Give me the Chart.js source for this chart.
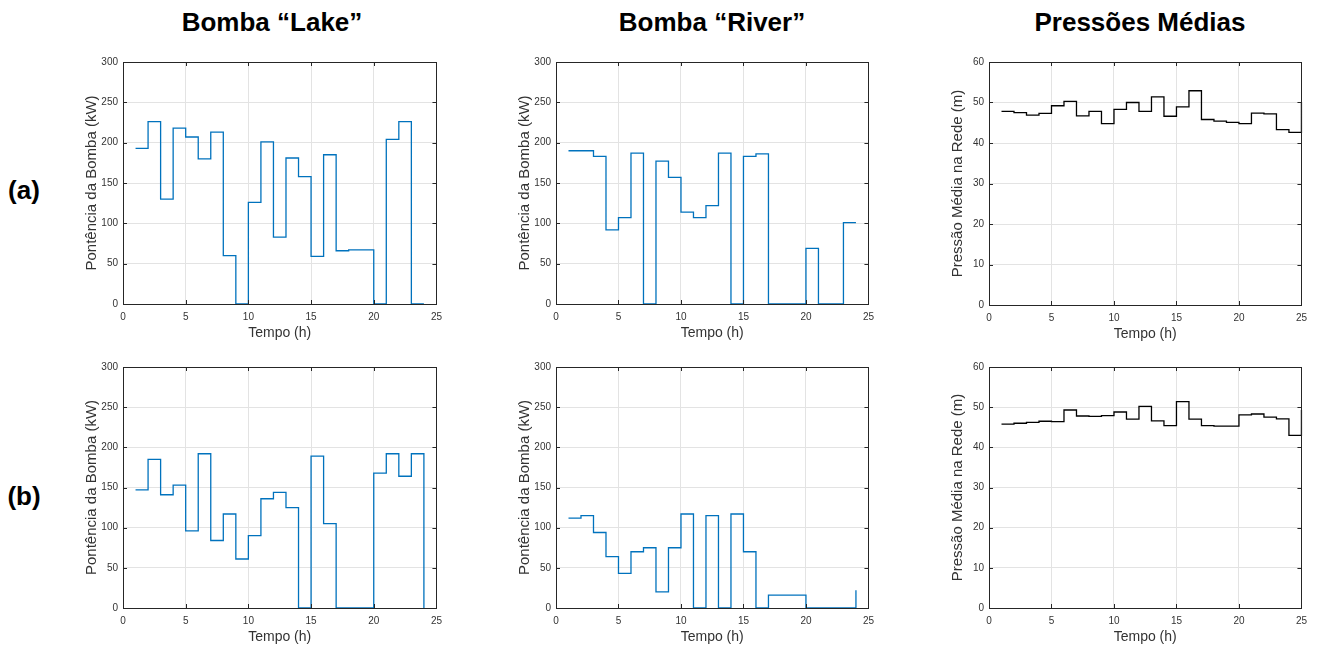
<!DOCTYPE html>
<html>
<head>
<meta charset="utf-8">
<script src="https://cdn.jsdelivr.net/npm/chart.js@4"></script>
<style>
body { margin: 0; background: #fff; width: 1323px; height: 648px; position: relative; overflow: hidden; font-family: "Liberation Sans", Arial, sans-serif; }
.title { position: absolute; font-weight: bold; font-size: 26px; color: #000; white-space: nowrap; transform: translate(-50%, -50%); }
canvas { position: absolute; }
</style>
</head>
<body>
<script>
// hours (x of each step start)
const hours = [1,2,3,4,5,6,7,8,9,10,11,12,13,14,15,16,17,18,19,20,21,22,23,24];
const hoursP = [1,2,3,4,5,6,7,8,9,10,11,12,13,14,15,16,17,18,19,20,21,22,23,24,25];

// row (a)
const lakeA = [193,226,130,218,207,180,213,60,0,126,201,83,181,158,59,185,66,67,67,0,204,226,0,0];
const riverA = [190,190,183,92,107,187,0,177,157,114,107,122,187,0,183,186,0,0,0,69,0,0,101,101];
const pressA = [47.8,47.5,46.9,47.3,49.2,50.3,46.7,47.8,44.8,48.3,50.0,47.8,51.4,46.6,48.9,52.9,45.8,45.4,45.1,44.8,47.4,47.2,43.3,42.6,50.1];

// row (b)
const lakeB = [147,185,141,153,96,192,84,117,61,90,136,144,125,0,189,105,0,0,0,168,192,164,192,0];
const riverB = [112,115,94,64,43,70,75,20,75,117,0,115,0,117,70,0,16,16,16,0,0,0,0,22];
const pressB = [45.8,46.0,46.2,46.5,46.4,49.3,47.8,47.7,47.9,48.8,47.0,50.2,46.6,45.4,51.4,47.0,45.4,45.3,45.3,48.1,48.3,47.5,47.1,43.0,49.3];

const colTitles = ['Bomba “Lake”', 'Bomba “River”', 'Pressões Médias'];
const rowLabels = ['(a)', '(b)'];
const yTitlePump = 'Pontência da Bomba (kW)';
const yTitlePress = 'Pressão Média na Rede (m)';
const xTitle = 'Tempo (h)';

const FONT = '"Liberation Sans", Arial, sans-serif';
const AX = '#262626';

function addText(txt, x, y) {
  let d = document.createElement('div');
  d.className = 'title';
  d.textContent = txt;
  d.style.left = x + 'px';
  d.style.top = y + 'px';
  document.body.appendChild(d);
}

addText(colTitles[0], 272, 22);
addText(colTitles[1], 712, 22);
addText(colTitles[2], 1140, 22);
addText(rowLabels[0], 24, 190);
addText(rowLabels[1], 24, 496);

// box with inward ticks, like matlab
const boxPlugin = {
  id: 'box',
  afterDraw(chart) {
    const ctx = chart.ctx;
    const a = chart.chartArea;
    ctx.save();
    ctx.strokeStyle = AX;
    ctx.lineWidth = 1;
    ctx.beginPath();
    const xs = chart.scales.x, ys = chart.scales.y;
    xs.ticks.forEach(t => {
      let px = Math.round(xs.getPixelForValue(t.value)) + 0.5;
      ctx.moveTo(px, a.bottom); ctx.lineTo(px, a.bottom - 4);
      ctx.moveTo(px, a.top); ctx.lineTo(px, a.top + 4);
    });
    ys.ticks.forEach(t => {
      let py = Math.round(ys.getPixelForValue(t.value)) + 0.5;
      ctx.moveTo(a.left, py); ctx.lineTo(a.left + 4, py);
      ctx.moveTo(a.right, py); ctx.lineTo(a.right - 4, py);
    });
    ctx.stroke();
    ctx.strokeRect(Math.round(a.left) + 0.5, Math.round(a.top) + 0.5, Math.round(a.right - a.left), Math.round(a.bottom - a.top));
    ctx.restore();
  }
};

function makePanel(left, top, right, bottom, xv, yv, color, ymax, ystep, ytitle) {
  const padL = 62, padT = 8, padR = 12, padB = 40;
  let c = document.createElement('canvas');
  c.width = right - left + padL + padR;
  c.height = bottom - top + padT + padB;
  c.style.left = (left - padL) + 'px';
  c.style.top = (top - padT) + 'px';
  document.body.appendChild(c);
  const pts = xv.map((x, i) => ({x: x, y: yv[i]}));
  new Chart(c, {
    type: 'line',
    data: { datasets: [{ data: pts, borderColor: color, borderWidth: 1.3, pointRadius: 0, stepped: true, fill: false, clip: false }] },
    options: {
      responsive: false,
      animation: false,
      layout: { padding: { top: padT, right: padR, left: 0, bottom: 0 } },
      plugins: { legend: { display: false }, tooltip: { enabled: false } },
      scales: {
        x: {
          type: 'linear', min: 0, max: 25,
          afterFit(s) { s.height = padB; },
          ticks: { stepSize: 5, padding: 7, color: '#333', font: { family: FONT, size: 10 }, maxRotation: 0 },
          grid: { color: '#e3e3e3', drawTicks: false },
          border: { display: false },
          title: { display: true, text: xTitle, color: '#333', font: { family: FONT, size: 14 }, padding: { top: 0, bottom: 2 } }
        },
        y: {
          min: 0, max: ymax,
          afterFit(s) { s.width = padL; },
          ticks: { stepSize: ystep, padding: 5, color: '#333', font: { family: FONT, size: 10 } },
          grid: { color: '#e3e3e3', drawTicks: false },
          border: { display: false },
          title: { display: true, text: ytitle, color: '#333', font: { family: FONT, size: 15 }, padding: { top: 22, bottom: 0 } }
        }
      }
    },
    plugins: [boxPlugin]
  });
}

const BLUE = 'rgb(0,114,189)';
makePanel(123, 59, 437, 304, hours, lakeA, BLUE, 300, 50, yTitlePump);
makePanel(556, 59, 869, 304, hours, riverA, BLUE, 300, 50, yTitlePump);
makePanel(989, 59, 1302, 305, hoursP, pressA, '#000', 60, 10, yTitlePress);
makePanel(123, 364, 437, 608, hours, lakeB, BLUE, 300, 50, yTitlePump);
makePanel(556, 364, 869, 608, hours, riverB, BLUE, 300, 50, yTitlePump);
makePanel(989, 364, 1302, 608, hoursP, pressB, '#000', 60, 10, yTitlePress);
</script>
</body>
</html>
